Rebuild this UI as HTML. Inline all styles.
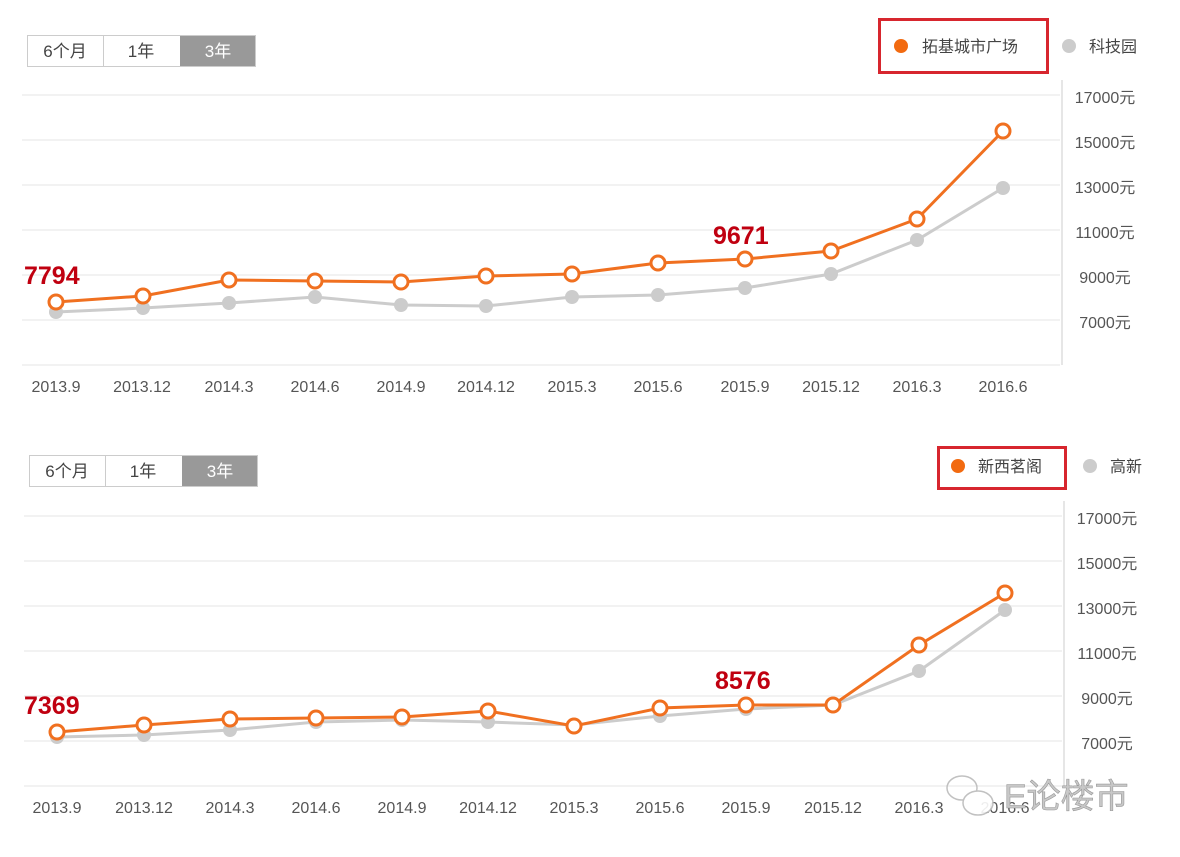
<!DOCTYPE html>
<html><head><meta charset="utf-8"><style>
html,body{margin:0;padding:0;background:#fff;}
svg{display:block;}
text{font-family:"Liberation Sans","Noto Sans CJK SC",sans-serif;}
</style></head><body>
<svg width="1180" height="857" viewBox="0 0 1180 857" xmlns="http://www.w3.org/2000/svg">
<defs>
<g id="grid">
 <g stroke="#eeeeee" stroke-width="1.5">
  <line x1="22" y1="95" x2="1060" y2="95"/>
  <line x1="22" y1="140" x2="1060" y2="140"/>
  <line x1="22" y1="185" x2="1060" y2="185"/>
  <line x1="22" y1="230" x2="1060" y2="230"/>
  <line x1="22" y1="275" x2="1060" y2="275"/>
  <line x1="22" y1="320" x2="1060" y2="320"/>
  <line x1="22" y1="365" x2="1060" y2="365"/>
 </g>
 <line x1="1062" y1="80" x2="1062" y2="365" stroke="#dddddd" stroke-width="1.5"/>
 <g font-size="16" fill="#555" text-anchor="middle">
  <text x="1105" y="103">17000元</text>
  <text x="1105" y="148">15000元</text>
  <text x="1105" y="193">13000元</text>
  <text x="1105" y="238">11000元</text>
  <text x="1105" y="283">9000元</text>
  <text x="1105" y="328">7000元</text>
 </g>
</g>
</defs>

<!-- Chart 1 -->
<rect x="27.5" y="35.5" width="228" height="31" fill="#fff" stroke="#ccc"/>
<line x1="103.5" y1="36" x2="103.5" y2="66" stroke="#ccc"/>
<rect x="180" y="36" width="75" height="30" fill="#999"/>
<g font-size="17" text-anchor="middle">
 <text x="65" y="57" fill="#444">6个月</text>
 <text x="141" y="57" fill="#444">1年</text>
 <text x="218" y="57" fill="#fff">3年</text>
</g>
<rect x="879.5" y="19.5" width="168" height="53" fill="none" stroke="#d7262e" stroke-width="3"/>
<circle cx="901" cy="46" r="7" fill="#f26a10"/>
<text x="922" y="52" font-size="16" fill="#444">拓基城市广场</text>
<circle cx="1069" cy="46" r="7" fill="#cccccc"/>
<text x="1089" y="52" font-size="16" fill="#444">科技园</text>

<use href="#grid"/>
<g font-size="16" fill="#555" text-anchor="middle">
 <text x="56" y="392">2013.9</text><text x="142" y="392">2013.12</text><text x="229" y="392">2014.3</text>
 <text x="315" y="392">2014.6</text><text x="401" y="392">2014.9</text><text x="486" y="392">2014.12</text>
 <text x="572" y="392">2015.3</text><text x="658" y="392">2015.6</text><text x="745" y="392">2015.9</text>
 <text x="831" y="392">2015.12</text><text x="917" y="392">2016.3</text><text x="1003" y="392">2016.6</text>
</g>
<polyline fill="none" stroke="#cccccc" stroke-width="3" points="56,312 143,308 229,303 315,297 401,305 486,306 572,297 658,295 745,288 831,274 917,240 1003,188"/>
<g fill="#cccccc">
 <circle cx="56" cy="312" r="7"/><circle cx="143" cy="308" r="7"/><circle cx="229" cy="303" r="7"/><circle cx="315" cy="297" r="7"/><circle cx="401" cy="305" r="7"/><circle cx="486" cy="306" r="7"/><circle cx="572" cy="297" r="7"/><circle cx="658" cy="295" r="7"/><circle cx="745" cy="288" r="7"/><circle cx="831" cy="274" r="7"/><circle cx="917" cy="240" r="7"/><circle cx="1003" cy="188" r="7"/>
</g>
<polyline fill="none" stroke="#f07020" stroke-width="3" points="56,302 143,296 229,280 315,281 401,282 486,276 572,274 658,263 745,259 831,251 917,219 1003,131"/>
<g fill="#fff" stroke="#f07020" stroke-width="3">
 <circle cx="56" cy="302" r="7"/><circle cx="143" cy="296" r="7"/><circle cx="229" cy="280" r="7"/><circle cx="315" cy="281" r="7"/><circle cx="401" cy="282" r="7"/><circle cx="486" cy="276" r="7"/><circle cx="572" cy="274" r="7"/><circle cx="658" cy="263" r="7"/><circle cx="745" cy="259" r="7"/><circle cx="831" cy="251" r="7"/><circle cx="917" cy="219" r="7"/><circle cx="1003" cy="131" r="7"/>
</g>
<text x="24" y="284" font-size="25" font-weight="bold" fill="#c00010">7794</text>
<text x="713" y="244" font-size="25" font-weight="bold" fill="#c00010">9671</text>

<!-- Chart 2 -->
<rect x="29.5" y="455.5" width="228" height="31" fill="#fff" stroke="#ccc"/>
<line x1="105.5" y1="456" x2="105.5" y2="486" stroke="#ccc"/>
<rect x="182" y="456" width="75" height="30" fill="#999"/>
<g font-size="17" text-anchor="middle">
 <text x="67" y="477" fill="#444">6个月</text>
 <text x="143" y="477" fill="#444">1年</text>
 <text x="220" y="477" fill="#fff">3年</text>
</g>
<rect x="938.5" y="447.5" width="127" height="41" fill="none" stroke="#d7262e" stroke-width="3"/>
<circle cx="958" cy="466" r="7" fill="#f26a10"/>
<text x="978" y="472" font-size="16" fill="#444">新西茗阁</text>
<circle cx="1090" cy="466" r="7" fill="#cccccc"/>
<text x="1110" y="472" font-size="16" fill="#444">高新</text>

<g transform="translate(2,421)"><use href="#grid"/></g>
<g font-size="16" fill="#555" text-anchor="middle">
 <text x="57" y="813">2013.9</text><text x="144" y="813">2013.12</text><text x="230" y="813">2014.3</text>
 <text x="316" y="813">2014.6</text><text x="402" y="813">2014.9</text><text x="488" y="813">2014.12</text>
 <text x="574" y="813">2015.3</text><text x="660" y="813">2015.6</text><text x="746" y="813">2015.9</text>
 <text x="833" y="813">2015.12</text><text x="919" y="813">2016.3</text><text x="1005" y="813">2016.6</text>
</g>
<polyline fill="none" stroke="#cccccc" stroke-width="3" points="57,737 144,735 230,730 316,722 402,720 488,722 574,725 660,716 746,709 833,705 919,671 1005,610"/>
<g fill="#cccccc">
 <circle cx="57" cy="737" r="7"/><circle cx="144" cy="735" r="7"/><circle cx="230" cy="730" r="7"/><circle cx="316" cy="722" r="7"/><circle cx="402" cy="720" r="7"/><circle cx="488" cy="722" r="7"/><circle cx="574" cy="725" r="7"/><circle cx="660" cy="716" r="7"/><circle cx="746" cy="709" r="7"/><circle cx="833" cy="705" r="7"/><circle cx="919" cy="671" r="7"/><circle cx="1005" cy="610" r="7"/>
</g>
<polyline fill="none" stroke="#f07020" stroke-width="3" points="57,732 144,725 230,719 316,718 402,717 488,711 574,726 660,708 746,705 833,705 919,645 1005,593"/>
<g fill="#fff" stroke="#f07020" stroke-width="3">
 <circle cx="57" cy="732" r="7"/><circle cx="144" cy="725" r="7"/><circle cx="230" cy="719" r="7"/><circle cx="316" cy="718" r="7"/><circle cx="402" cy="717" r="7"/><circle cx="488" cy="711" r="7"/><circle cx="574" cy="726" r="7"/><circle cx="660" cy="708" r="7"/><circle cx="746" cy="705" r="7"/><circle cx="833" cy="705" r="7"/><circle cx="919" cy="645" r="7"/><circle cx="1005" cy="593" r="7"/>
</g>
<text x="24" y="714" font-size="25" font-weight="bold" fill="#c00010">7369</text>
<text x="715" y="689" font-size="25" font-weight="bold" fill="#c00010">8576</text>

<!-- watermark -->
<g fill="none" stroke="#bbb" stroke-width="1.5" opacity="0.9">
 <ellipse cx="962" cy="788" rx="15" ry="12"/>
 <ellipse cx="978" cy="803" rx="15" ry="12" fill="#fff"/>
</g>
<text x="1004" y="808" font-size="34" fill="#c8c8c8" stroke="#999" stroke-width="0.6">E论楼市</text>
</svg>
</body></html>
